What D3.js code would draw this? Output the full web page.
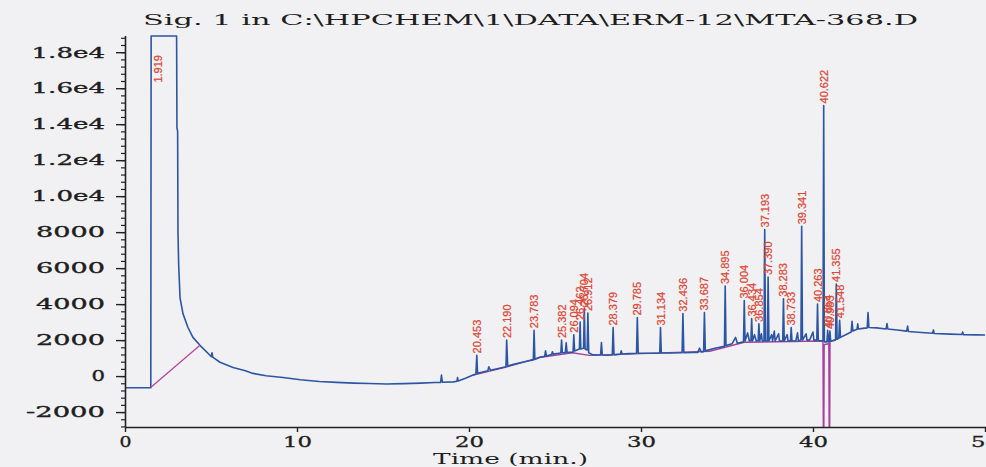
<!DOCTYPE html>
<html>
<head>
<meta charset="utf-8">
<script src="https://cdn.jsdelivr.net/npm/d3@7"></script>
<style>
  body { margin: 0; background: #f1f1f3; }
  svg { display: block; }
</style>
</head>
<body>
<div id="chrom"></div>
<script>
// chart text
const title = "Sig. 1 in C:\\HPCHEM\\1\\DATA\\ERM-12\\MTA-368.D";
const xTitle = "Time (min.)";

// axis ticks
const xTicks = [0, 10, 20, 30, 40, 50];
const yTicks = [-2000, 0, 2000, 4000, 6000, 8000, 10000, 12000, 14000, 16000, 18000];
const yTickLabels = ["-2000", "0", "2000", "4000", "6000", "8000", "1.0e4", "1.2e4", "1.4e4", "1.6e4", "1.8e4"];

// detector signal, [time (min), counts]
const trace = [
  [0,-650],[1.50,-650],[1.52,18900],[3.00,18900],[3.02,13800],[3.06,13600],[3.08,8000],[3.12,6200],
  [3.20,4350],[3.37,3470],[3.66,2700],[3.95,2150],[4.36,1710],[4.94,1160],[5.02,1080],[5.06,1300],
  [5.10,1050],[5.52,770],[6.28,480],[7.0,300],[7.44,150],[8.2,20],[9.19,-80],[10.2,-200],[11.3,-300],
  [12.3,-350],[13.3,-390],[14.2,-410],[15.2,-440],[16.2,-420],[17.2,-390],[18.0,-360],[18.35,-350],
  [18.40,60],[18.45,-340],[19.1,-320],[19.30,-290],[19.33,-80],[19.37,-270],[19.8,-120],[20.2,50],
  [20.40,120],[20.453,1150],[20.50,150],[20.8,230],[21.1,300],[21.15,520],[21.25,320],[21.7,420],
  [22.15,520],[22.19,2000],[22.25,560],[22.6,650],[23.1,770],[23.50,850],[23.74,900],[23.783,2550],
  [23.83,920],[24.1,1050],[24.4,1100],[24.45,1400],[24.5,1120],[24.8,1200],[24.85,1350],[24.9,1220],
  [25.34,1280],[25.382,2000],[25.43,1300],[25.6,1300],[25.65,1850],[25.7,1320],[26.05,1330],
  [26.094,2300],[26.14,1400],[26.42,1500],[26.462,3000],[26.50,1500],[26.66,1550],[26.704,3750],
  [26.75,1500],[26.87,1450],[26.912,3500],[26.96,1300],[27.2,1180],[27.65,1170],[27.70,1870],
  [27.75,1170],[28.0,1160],[28.33,1170],[28.379,2700],[28.43,1180],[28.8,1220],[28.85,1400],
  [28.9,1230],[29.3,1250],[29.74,1270],[29.785,3250],[29.84,1270],[30.4,1270],[30.9,1270],
  [31.09,1270],[31.134,2700],[31.18,1280],[31.7,1280],[32.39,1300],[32.436,3470],[32.49,1300],
  [33.0,1310],[33.3,1320],[33.4,1550],[33.5,1340],[33.64,1360],[33.687,3530],[33.74,1400],
  [34.3,1550],[34.85,1650],[34.895,5000],[34.94,1700],[35.3,1800],[35.5,2150],[35.6,1820],
  [35.96,1900],[36.004,4200],[36.05,1950],[36.2,2400],[36.3,1950],[36.39,1950],[36.434,3200],
  [36.48,1950],[36.6,2300],[36.7,1950],[36.81,1950],[36.854,2900],[36.90,1950],[37.0,2350],
  [37.05,1950],[37.15,1950],[37.193,8150],[37.24,1950],[37.35,1950],[37.39,5500],[37.44,1950],
  [37.6,2300],[37.65,1950],[37.75,2500],[37.8,1950],[38.0,2350],[38.05,1950],[38.24,1950],
  [38.283,4300],[38.33,1950],[38.5,2300],[38.55,1950],[38.69,1950],[38.733,2700],[38.78,1950],
  [39.0,1950],[39.1,2400],[39.15,1960],[39.30,2000],[39.341,8320],[39.39,2000],[39.6,2350],
  [39.65,2000],[39.8,2000],[40.0,2450],[40.05,2000],[40.22,2000],[40.263,4000],[40.31,1980],
  [40.58,1950],[40.622,15040],[40.66,1900],[40.81,1900],[40.854,2550],[40.90,1900],[40.94,1900],
  [40.983,2500],[41.03,1950],[41.31,2000],[41.355,5120],[41.40,2050],[41.50,2100],[41.548,3100],
  [41.60,2150],[41.9,2300],[42.22,2450],[42.27,3050],[42.32,2500],[42.56,2600],[42.6,2900],
  [42.64,2620],[42.9,2650],[43.15,2680],[43.2,3530],[43.25,2700],[43.7,2680],[44.25,2620],
  [44.3,2920],[44.35,2620],[44.9,2560],[45.45,2500],[45.5,2780],[45.55,2480],[46.3,2420],
  [46.95,2380],[47.0,2560],[47.05,2370],[48.0,2330],[48.65,2310],[48.7,2450],[48.75,2300],
  [49.5,2290],[50,2280]
];

// integration baselines (purple)
const baseSolvent = [[1.51,-620],[4.36,1710]];
const baseMain = [[20.2,40],[22.1,480],[24.1,1030],[26.0,1300],[27.0,1150],[30,1250],[34,1380],
  [36,1880],[40.5,1950],[40.58,1900],[40.60,-3300],[40.63,-3300],[40.65,1750],[40.92,1800],
  [40.94,-3300],[40.97,-3300],[40.99,1900],[41.6,2150]];

// labelled peaks: retention time and apex height
const peakLabels = ["1.919","20.453","22.190","23.783","25.382","26.094","26.462","26.704","26.912",
  "28.379","29.785","31.134","32.436","33.687","34.895","36.004","36.434","36.854","37.193","37.390",
  "38.283","38.733","39.341","40.263","40.622","40.854","40.983","41.355","41.548"];
const peakTimes = [1.919,20.453,22.190,23.783,25.382,26.094,26.462,26.704,26.912,28.379,29.785,
  31.134,32.436,33.687,34.895,36.004,36.434,36.854,37.193,37.390,38.283,38.733,39.341,40.263,
  40.622,40.854,40.983,41.355,41.548];
const peakApex = [16200,1150,2000,2550,2000,2300,3000,3750,3500,2700,3250,2700,3470,3530,5000,
  4200,3200,2900,8150,5500,4300,2700,8320,4000,15040,2550,2500,5120,3100];

const W = 986, H = 467;
const margin = {top: 36, right: 1, bottom: 40, left: 125};

const svg = d3.select("#chrom")
  .append("svg")
    .attr("width", W)
    .attr("height", H);

svg.append("rect").attr("width", W).attr("height", H).attr("fill", "#f1f1f3");

const x = d3.scaleLinear().domain([0, 50]).range([margin.left, W - margin.right]);
const y = d3.scaleLinear().domain([-2830, 18900]).range([H - margin.bottom, margin.top]);

svg.append("clipPath").attr("id", "plotclip")
  .append("rect")
    .attr("x", margin.left).attr("y", margin.top - 1)
    .attr("width", W - margin.left).attr("height", H - margin.bottom - margin.top + 1);

const line = d3.line().x(d => x(d[0])).y(d => y(d[1]));

const plot = svg.append("g").attr("clip-path", "url(#plotclip)");

plot.append("path").datum(baseMain)
  .attr("d", line).attr("fill", "none")
  .attr("stroke", "#a3449a").attr("stroke-width", 1.4);

plot.append("path").datum(trace)
  .attr("d", line).attr("fill", "none")
  .attr("stroke", "#2c56a4").attr("stroke-width", 1.6)
  .attr("stroke-linejoin", "round");

plot.append("path").datum(baseSolvent)
  .attr("d", line).attr("fill", "none")
  .attr("stroke", "#b5479a").attr("stroke-width", 1.3);

// peak labels, vertical, reading upward from the apex
svg.append("g").selectAll("text")
  .data(peakLabels)
  .join("text")
    .attr("transform", (d, i) => `translate(${x(peakTimes[i]) + 4},${y(peakApex[i]) - 2}) rotate(-90)`)
    .attr("font-family", "Liberation Sans, Arial, sans-serif")
    .attr("font-size", 11)
    .attr("fill", "#dc4838")
    .attr("stroke", "#dc4838")
    .attr("stroke-width", 0.25)
    .text(d => d);

// glyph widths for the wide scanned lettering
const charW = {"-": 10, ".": 8, "e": 15};
const labelWidth = (s, digit) => d3.sum(s.split(""), c => charW[c] || digit) - 5;

// axes
const yMinor = d3.range(-2800, 18900, 400);
svg.append("g")
  .attr("transform", `translate(${margin.left},0)`)
  .call(d3.axisLeft(y).tickValues(yMinor).tickSize(4).tickFormat(""))
  .call(g => g.select(".domain").remove())
  .selectAll("line").attr("stroke", "#222").attr("stroke-width", 1.2);

const yAxis = svg.append("g")
  .attr("transform", `translate(${margin.left},0)`)
  .call(d3.axisLeft(y).tickValues(yTicks).tickSize(9).tickPadding(11)
    .tickFormat((d, i) => yTickLabels[i]));
yAxis.select(".domain").attr("stroke", "#222").attr("stroke-width", 1.6)
  .attr("d", `M0.5,${margin.top}V${H - margin.bottom}`);
yAxis.selectAll("line").attr("stroke", "#222").attr("stroke-width", 1.4);
yAxis.selectAll("text")
  .attr("font-family", "DejaVu Serif, serif")
  .attr("font-size", 15)
  .attr("fill", "#1e1e1e")
  .attr("stroke", "#1e1e1e")
  .attr("stroke-width", 0.35)
  .attr("textLength", d => labelWidth(yTickLabels[yTicks.indexOf(d)], 18.5))
  .attr("lengthAdjust", "spacingAndGlyphs");

const xAxis = svg.append("g")
  .attr("transform", `translate(0,${H - margin.bottom})`)
  .call(d3.axisBottom(x).tickValues(xTicks).tickSize(5).tickPadding(5).tickFormat(d3.format("d")));
xAxis.select(".domain").attr("stroke", "#222").attr("stroke-width", 1.6)
  .attr("d", `M${margin.left},0.5H${W}`);
xAxis.selectAll("line").attr("stroke", "#222").attr("stroke-width", 1.4);
xAxis.selectAll("text")
  .attr("font-family", "DejaVu Serif, serif")
  .attr("font-size", 14)
  .attr("fill", "#1e1e1e")
  .attr("stroke", "#1e1e1e")
  .attr("stroke-width", 0.3)
  .attr("textLength", d => labelWidth(String(d), 17))
  .attr("lengthAdjust", "spacingAndGlyphs");

// titles
svg.append("text")
  .attr("x", 143).attr("y", 25)
  .attr("font-family", "DejaVu Serif, serif")
  .attr("font-size", 15)
  .attr("fill", "#1e1e1e")
  .attr("textLength", 775)
  .attr("lengthAdjust", "spacingAndGlyphs")
  .text(title);

svg.append("text")
  .attr("x", 433).attr("y", 464)
  .attr("font-family", "DejaVu Serif, serif")
  .attr("font-size", 14)
  .attr("fill", "#1e1e1e")
  .attr("textLength", 155)
  .attr("lengthAdjust", "spacingAndGlyphs")
  .text(xTitle);
</script>
</body>
</html>
